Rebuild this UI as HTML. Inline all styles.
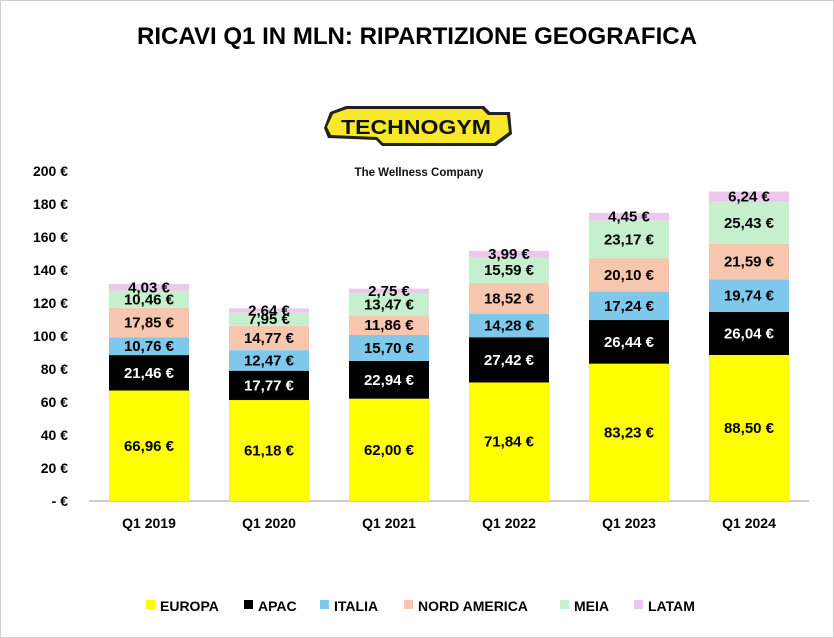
<!DOCTYPE html>
<html><head><meta charset="utf-8"><style>
body{margin:0;background:#fff}
svg{display:block;font-family:"Liberation Sans",Arial,sans-serif}
</style></head><body>
<svg id="s" width="834" height="638" viewBox="0 0 834 638" xmlns="http://www.w3.org/2000/svg">
<rect x="0.5" y="0.5" width="833" height="637" fill="#fff" stroke="#d0d0d0" stroke-width="1"/>
<text x="417" y="44" text-anchor="middle" font-size="24" font-weight="bold" fill="#000" textLength="560" lengthAdjust="spacingAndGlyphs">RICAVI Q1 IN MLN: RIPARTIZIONE GEOGRAFICA</text>
<g>
<polygon points="330,112 346,106 484,106 490,112 510,112 512,134 496,146 382,146 376,140 328,138 324,128" fill="#222"/>
<polygon points="333,114 347,109 482,109 488,115 507,115 509,132 494,143 383,143 377,137 331,135 327,127" fill="#f7e82a"/>
<text x="416" y="134" text-anchor="middle" font-size="20" font-weight="bold" fill="#111" textLength="150" lengthAdjust="spacingAndGlyphs">TECHNOGYM</text>
<text x="419" y="176" text-anchor="middle" font-size="11.5" font-weight="bold" fill="#111">The Wellness Company</text>
</g>
<g id="g"></g>
</svg>
<script>
const g=document.getElementById('g');
const cols=['#ffff00','#000000','#7ec8ec','#f7c6ae','#c6efce','#ecc9ec'];
const txt=['#000','#fff','#000','#000','#000','#000'];
const data=[[66.96,21.46,10.76,17.85,10.46,4.03],[61.18,17.77,12.47,14.77,7.95,2.64],[62.00,22.94,15.70,11.86,13.47,2.75],[71.84,27.42,14.28,18.52,15.59,3.99],[83.23,26.44,17.24,20.10,23.17,4.45],[88.50,26.04,19.74,21.59,25.43,6.24]];
const yrs=['Q1 2019','Q1 2020','Q1 2021','Q1 2022','Q1 2023','Q1 2024'];
const y0=501,k=1.65;
let h='';
for(let i=0;i<=10;i++){const v=i*20;const y=y0-v*k;h+=`<text x="68" y="${y+5}" text-anchor="end" font-size="14" font-weight="bold">${v?v+' €':'- €'}</text>`;}
h+=`<line x1="89" y1="501" x2="809" y2="501" stroke="#d0d0d0" stroke-width="2"/>`;
data.forEach((d,i)=>{const cx=149+120*i;let acc=0;
 d.forEach((v,j)=>{const yt=y0-(acc+v)*k,yb=y0-acc*k;h+=`<rect x="${cx-40}" y="${yt}" width="80" height="${yb-yt}" fill="${cols[j]}"/>`;acc+=v;});
 acc=0;d.forEach((v,j)=>{const ym=y0-(acc+v/2)*k;acc+=v;h+=`<text x="${cx}" y="${ym+5}" text-anchor="middle" font-size="15" font-weight="bold" fill="${txt[j]}">${v.toFixed(2).replace('.',',')} €</text>`;});
 h+=`<text x="${cx}" y="528" text-anchor="middle" font-size="14" font-weight="bold">${yrs[i]}</text>`;
});
const leg=[['EUROPA',160],['APAC',258],['ITALIA',334],['NORD AMERICA',418],['MEIA',574],['LATAM',648]];
leg.forEach((l,j)=>{h+=`<rect x="${l[1]-14}" y="600" width="9" height="9" fill="${cols[j]}"/><text x="${l[1]}" y="611" font-size="14" font-weight="bold">${l[0]}</text>`;});
g.innerHTML=h;
</script>
</body></html>
